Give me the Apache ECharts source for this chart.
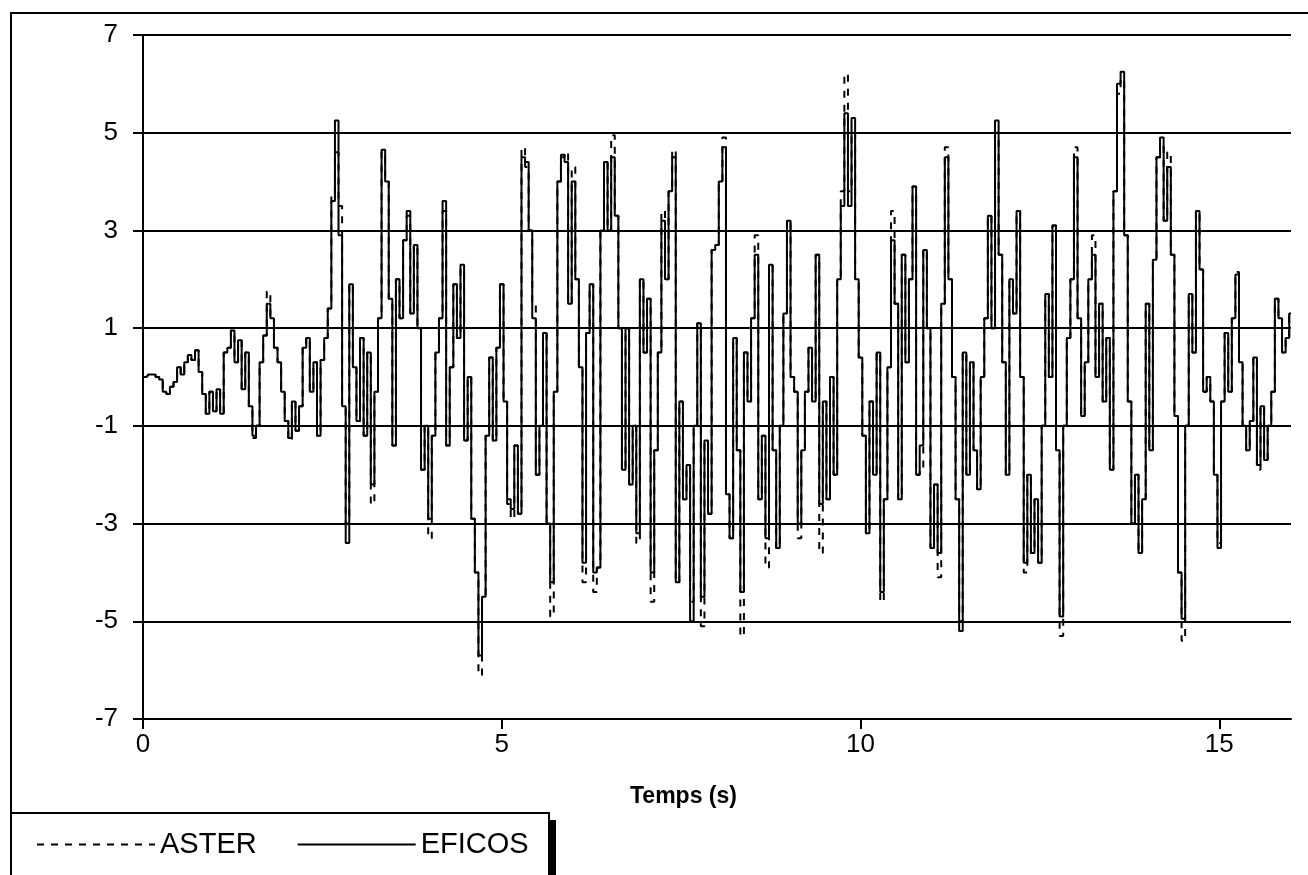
<!DOCTYPE html>
<html>
<head>
<meta charset="utf-8">
<script src="https://cdn.jsdelivr.net/npm/echarts@6/dist/echarts.min.js"></script>
<style>
html,body{margin:0;padding:0;background:#fff;}
#chart{width:1308px;height:875px;}
</style>
</head>
<body>
<div id="chart"></div>
<script>
// Sampling step of the records (s)
const dt = 0.05;
const xTicks = [0, 5, 10, 15];
const yTicks = [-7, -5, -3, -1, 1, 3, 5, 7];
const seriesNames = ['ASTER', 'EFICOS'];
const xTitle = 'Temps (s)';

// EFICOS record, one value every dt from 0 to 16 s
const eficos = [
  0, 0, 0.05, 0.05, 0, -0.05, -0.3, -0.35, -0.2, -0.1, 0.2, 0.05, 0.3, 0.45, 0.35, 0.55, 0.1, -0.35, -0.75, -0.3,
  -0.7, -0.25, -0.75, 0.5, 0.6, 0.95, 0.3, 0.75, -0.25, 0.5, -0.6, -1.2, -1.0, 0.3, 0.85, 1.5, 1.2, 0.6, 0.3, -0.3,
  -0.9, -1.25, -0.5, -1.1, -0.6, 0.6, 0.8, -0.3, 0.3, -1.2, 0.35, 0.8, 1.4, 3.6, 5.25, 2.9, -0.6, -3.4, 1.9, 0.2,
  -0.9, 0.8, -1.2, 0.5, -2.2, -0.3, 1.2, 4.65, 4.0, 1.6, -1.4, 2.0, 1.2, 2.8, 3.4, 1.3, 2.7, 1.0, -1.9, -1.0,
  -2.9, -1.2, 0.5, 1.2, 3.6, -1.4, 0.2, 1.9, 0.8, 2.3, -1.3, 0.0, -2.9, -4.0, -5.7, -4.5, -1.2, 0.4, -1.3, 0.6,
  1.9, -0.5, -2.5, -2.7, -1.4, -2.8, 4.5, 4.4, 3.0, 1.2, -2.0, -1.0, 0.9, -3.0, -4.2, -0.3, 4.0, 4.55, 4.4, 1.5,
  4.0, 2.0, 0.2, -3.8, 0.9, 1.9, -4.0, -3.9, 3.0, 4.4, 3.0, 4.5, 3.3, 1.0, -1.9, 1.0, -2.2, -1.0, -3.2, 2.0,
  0.5, 1.6, -4.0, -1.5, 0.5, 3.2, 2.0, 3.8, 4.5, -4.2, -0.5, -2.5, -1.8, -5.0, -1.0, 1.1, -4.5, -1.3, -2.8, 2.6,
  2.7, 4.0, 4.7, -2.4, -3.3, 0.8, -1.5, -4.4, 0.5, -0.5, 1.2, 2.5, -2.5, -1.2, -3.3, 2.3, -1.5, -3.5, -1.0, 1.3,
  3.2, 0.0, -0.3, -3.0, -1.5, -0.3, 0.6, -0.5, 2.5, -2.6, -0.5, -2.5, 0.0, -2.0, 2.0, 3.5, 5.4, 3.5, 5.3, 2.0,
  0.4, -1.2, -3.2, -0.5, -2.0, 0.5, -4.4, -2.5, 0.2, 2.8, 1.5, -2.5, 2.5, 0.3, 2.0, 3.9, -2.0, -1.4, 2.6, 1.0,
  -3.5, -2.2, -3.6, 1.5, 4.5, 2.0, 0.0, -2.5, -5.2, 0.5, -2.0, 0.3, -1.5, -2.3, 0.0, 1.2, 3.3, 1.0, 5.25, 2.5,
  0.3, -2.0, 2.0, 1.3, 3.4, 0.0, -3.8, -2.0, -3.6, -2.5, -3.8, -1.0, 1.7, 0.0, 3.1, -1.5, -4.9, -1.0, 0.8, 2.0,
  4.5, 1.2, -0.8, 0.3, 2.0, 2.5, 0.0, 1.5, -0.5, 0.8, -1.9, 3.8, 6.0, 6.25, 2.9, -0.5, -3.0, -2.0, -3.6, -2.5,
  1.5, -1.5, 2.4, 4.5, 4.9, 3.2, 4.3, 2.5, -0.8, -4.0, -4.95, -1.0, 1.7, 0.5, 3.4, 2.2, -0.3, 0.0, -0.5, -2.0,
  -3.5, -0.5, 0.9, -0.3, 1.2, 2.1, 0.3, -1.0, -1.5, -0.9, 0.4, -1.8, -0.6, -1.7, -1.0, -0.3, 1.6, 1.2, 0.5, 0.8,
  1.3
];

// ASTER record, same sampling
const aster = [
  0, 0, 0.05, 0.05, 0, -0.05, -0.3, -0.35, -0.2, -0.1, 0.2, 0.05, 0.3, 0.45, 0.35, 0.55, 0.1, -0.35, -0.75, -0.3,
  -0.7, -0.25, -0.75, 0.5, 0.6, 0.95, 0.3, 0.75, -0.25, 0.5, -0.6, -1.25, -1.0, 0.3, 0.85, 1.75, 1.2, 0.6, 0.3, -0.3,
  -0.9, -1.3, -0.5, -1.1, -0.6, 0.6, 0.8, -0.3, 0.3, -1.2, 0.35, 0.8, 1.4, 3.7, 4.6, 3.5, -0.6, -3.0, 1.9, 0.2,
  -0.9, 0.8, -1.2, 0.5, -2.6, -0.3, 1.2, 4.6, 4.1, 1.6, -1.4, 2.0, 1.2, 2.8, 3.3, 1.3, 2.7, 1.0, -1.9, -1.0,
  -3.3, -1.2, 0.5, 1.2, 3.4, -1.4, 0.2, 1.9, 0.8, 2.2, -1.3, 0.0, -2.9, -4.0, -6.1, -4.5, -1.2, 0.4, -1.3, 0.6,
  1.9, -0.5, -2.6, -2.9, -1.4, -2.8, 4.7, 4.3, 3.0, 1.5, -2.0, -1.0, 0.9, -3.0, -4.9, -0.3, 4.0, 4.5, 4.6, 1.5,
  4.3, 2.0, 0.2, -4.2, 0.9, 1.9, -4.4, -3.9, 3.0, 4.4, 3.0, 4.95, 3.3, 1.0, -1.9, 1.0, -2.2, -1.0, -3.4, 2.0,
  0.5, 1.6, -4.6, -1.5, 0.5, 3.4, 2.0, 3.8, 4.65, -4.2, -0.5, -2.5, -1.8, -4.6, -1.0, 1.1, -5.1, -1.3, -2.8, 2.6,
  2.7, 4.0, 4.9, -2.4, -3.3, 0.8, -1.5, -5.3, 0.5, -0.5, 1.2, 2.9, -2.5, -1.2, -3.9, 2.3, -1.5, -3.5, -1.0, 1.3,
  3.2, 0.0, -0.3, -3.3, -1.5, -0.3, 0.6, -0.5, 2.5, -3.6, -0.5, -2.5, 0.0, -2.0, 2.0, 3.8, 6.2, 3.8, 5.0, 2.0,
  0.4, -1.2, -3.2, -0.5, -2.0, 0.5, -4.6, -2.5, 0.2, 3.4, 1.5, -2.5, 2.5, 0.3, 2.0, 3.9, -2.0, -1.9, 2.6, 1.0,
  -3.5, -2.2, -4.1, 1.5, 4.7, 2.0, 0.0, -2.5, -5.0, 0.5, -2.0, 0.3, -1.5, -2.3, 0.0, 1.2, 3.3, 1.0, 5.0, 2.5,
  0.3, -2.0, 2.0, 1.3, 3.4, 0.0, -4.0, -2.0, -3.6, -2.5, -3.8, -1.0, 1.7, 0.0, 3.1, -1.5, -5.3, -1.0, 0.8, 2.0,
  4.7, 1.2, -0.8, 0.3, 2.0, 2.9, 0.0, 1.5, -0.5, 0.8, -1.9, 3.8, 5.8, 6.1, 2.9, -0.5, -3.0, -2.0, -3.6, -2.5,
  1.5, -1.5, 2.4, 4.5, 4.8, 3.2, 4.6, 2.5, -0.8, -4.0, -5.4, -1.0, 1.7, 0.5, 3.4, 2.2, -0.3, 0.0, -0.5, -2.0,
  -3.4, -0.5, 0.9, -0.3, 1.2, 2.15, 0.3, -1.0, -1.5, -0.9, 0.4, -1.9, -0.6, -1.7, -1.0, -0.3, 1.6, 1.2, 0.5, 0.8,
  1.3
];

function pairs(values) {
  return values.map(function (v, i) { return [Math.round(i * dt * 100) / 100, v]; });
}

const FONT = '"Liberation Sans", Arial, sans-serif';
const chart = echarts.init(document.getElementById('chart'), null, { renderer: 'canvas' });

chart.setOption({
  animation: false,
  backgroundColor: '#ffffff',
  textStyle: { fontFamily: FONT, color: '#000' },
  grid: { left: 143, right: 17, top: 35, bottom: 156, containLabel: false },
  xAxis: {
    type: 'value',
    min: 0,
    max: 16,
    interval: 5,
    axisLine: { show: true, onZero: false, lineStyle: { color: '#000', width: 2 } },
    axisTick: { show: true, inside: false, length: 10, customValues: xTicks, lineStyle: { color: '#000', width: 2 } },
    axisLabel: { customValues: xTicks, margin: 13, fontSize: 26, color: '#000', fontFamily: FONT },
    splitLine: { show: false }
  },
  yAxis: {
    type: 'value',
    min: -7,
    max: 7,
    interval: 2,
    axisLine: { show: true, lineStyle: { color: '#000', width: 2 } },
    axisTick: { show: true, inside: false, length: 10, customValues: yTicks, lineStyle: { color: '#000', width: 2 } },
    axisLabel: { customValues: yTicks, margin: 25, fontSize: 26, color: '#000', fontFamily: FONT },
    splitLine: { show: true, lineStyle: { color: '#000', width: 2 } }
  },
  legend: {
    data: seriesNames,
    left: 10,
    top: 814,
    orient: 'horizontal',
    itemWidth: 118,
    itemHeight: 14,
    itemGap: 40,
    padding: [16, 12, 40, 26],
    itemStyle: { opacity: 0 },
    lineStyle: { width: 2 },
    textStyle: { fontSize: 29, color: '#000', fontFamily: FONT },
    selectedMode: false,
    z: 10
  },
  graphic: [
    {
      type: 'rect', z: -10, silent: true,
      shape: { x: 11, y: 13, width: 1320, height: 900 },
      style: { fill: 'none', stroke: '#000', lineWidth: 2 }
    },
    {
      type: 'rect', z: 5, silent: true,
      shape: { x: 548, y: 820, width: 8, height: 80 },
      style: { fill: '#000' }
    },
    {
      type: 'rect', z: 6, silent: true,
      shape: { x: 11, y: 813, width: 538, height: 90 },
      style: { fill: '#fff', stroke: '#000', lineWidth: 2 }
    },
    {
      type: 'text',
      left: 630, top: 785,
      style: { text: xTitle, font: 'bold 23px ' + FONT, fill: '#000' }
    }
  ],
  series: [
    {
      name: seriesNames[0],
      type: 'line',
      data: pairs(aster),
      step: 'middle',
      showSymbol: false,
      symbol: 'none',
      lineStyle: { color: '#000', width: 2, type: [7, 7] },
      itemStyle: { color: '#000' },
      z: 2
    },
    {
      name: seriesNames[1],
      type: 'line',
      data: pairs(eficos),
      step: 'middle',
      showSymbol: false,
      symbol: 'none',
      lineStyle: { color: '#000', width: 2, type: 'solid' },
      itemStyle: { color: '#000' },
      z: 3
    }
  ]
});
</script>
</body>
</html>
